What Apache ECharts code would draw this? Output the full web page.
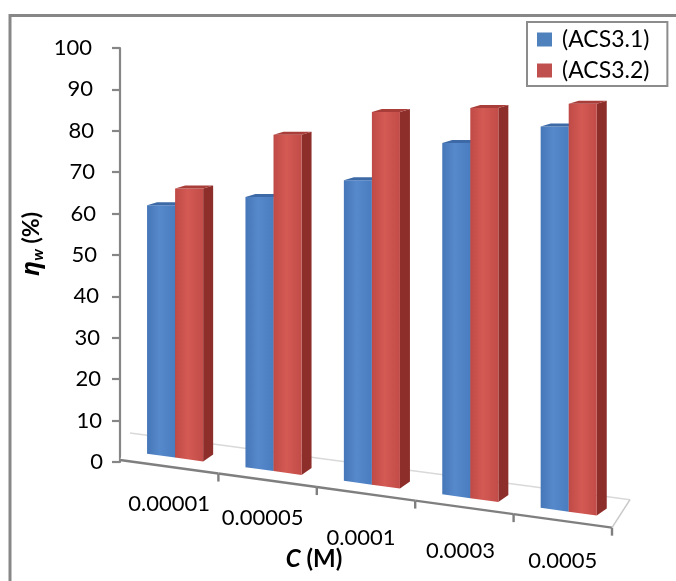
<!DOCTYPE html>
<html>
<head>
<meta charset="utf-8">
<script src="https://cdn.jsdelivr.net/npm/echarts@6.0.0/dist/echarts.min.js"></script>
<style>
  html, body { margin: 0; padding: 0; background: #ffffff; }
  #chart { width: 676px; height: 581px; }
</style>
</head>
<body>
<div id="chart"></div>
<script>
// Inhibition efficiency (%) at each inhibitor concentration
const categories = ['0.00001', '0.00005', '0.0001', '0.0003', '0.0005'];
const acs31 = [63, 65, 69, 78, 82];
const acs32 = [67, 80, 85.5, 86.5, 87.5];
const seriesNames = ['(ACS3.1)', '(ACS3.2)'];

// value-axis range
const yMin = 0, yMax = 100, yStep = 10;

// pseudo-3D look of the floor and the columns
const FLOOR_SLOPE = 0.1375;   // front edge of the floor falls to the right
const BAR_SET_BACK = 12;      // columns stand a little behind the front edge
const SIDE_DX = 10;           // width of the visible right side of a column
const FONT = 'Lato, "Noto Sans", sans-serif';
const FS = 22;

const chart = echarts.init(document.getElementById('chart'), null, { renderer: 'canvas' });

function floorItem(params, api) {
  const cs = params.coordSys;
  const i = api.value(0);
  const c = api.coord([i, 0]);
  const half = api.size([1, 0])[0] / 2;
  const x0 = cs.x;
  const front = x => [x, c[1] - 2 + FLOOR_SLOPE * (x - x0)];
  const back = x => {
    const t = (x - x0) / cs.width;
    const f = front(x);
    return [f[0] + 10 + 8 * t, f[1] - 27 - t];
  };
  const xa = c[0] - half, xb = c[0] + half;
  const children = [
    { type: 'polygon', shape: { points: [front(xa), front(xb), back(xb), back(xa)] },
      style: { fill: '#ffffff', stroke: null } },
    { type: 'line', shape: { x1: back(xa)[0], y1: back(xa)[1], x2: back(xb)[0], y2: back(xb)[1] },
      style: { stroke: '#d9d9d9', lineWidth: 1.5 } },
    { type: 'line', shape: { x1: front(xa)[0], y1: front(xa)[1], x2: front(xb)[0], y2: front(xb)[1] },
      style: { stroke: '#7f7f7f', lineWidth: 2.4 } },
    { type: 'line', shape: { x1: xb, y1: front(xb)[1], x2: xb, y2: front(xb)[1] + 8 },
      style: { stroke: '#7f7f7f', lineWidth: 2.4 } }
  ];
  if (i === categories.length - 1) {
    children.push({ type: 'line',
      shape: { x1: front(xb)[0], y1: front(xb)[1], x2: back(xb)[0], y2: back(xb)[1] },
      style: { stroke: '#c8c8c8', lineWidth: 1.5 } });
  }
  return { type: 'group', children };
}

function makeBarItem(side, colors) {
  return function (params, api) {
    const cs = params.coordSys;
    const i = api.value(0);
    const v = api.value(1);
    const base = api.coord([i, 0]);
    const top = api.coord([i, v]);
    const cw = api.size([1, 0])[0];
    const bw = cw * 0.285;
    const cx = base[0] + cw * 0.06;
    const xL = cx - bw + side * bw;
    const xR = xL + bw;
    const floorY = x => base[1] - BAR_SET_BACK + FLOOR_SLOPE * (x - cs.x);
    const yT = top[1] + 4;
    const frontFill = new echarts.graphic.LinearGradient(0, 0, 1, 0, [
      { offset: 0, color: colors.f0 },
      { offset: 0.45, color: colors.f1 },
      { offset: 1, color: colors.f2 }
    ]);
    return {
      type: 'group',
      children: [
        { type: 'polygon',
          shape: { points: [[xR, yT], [xR + SIDE_DX, yT - 3], [xR + SIDE_DX, floorY(xR) - 7], [xR, floorY(xR)]] },
          style: { fill: colors.side } },
        { type: 'polygon',
          shape: { points: [[xL, yT], [xR, yT], [xR, floorY(xR)], [xL, floorY(xL)]] },
          style: { fill: frontFill } },
        { type: 'polygon',
          shape: { points: [[xL, yT], [xR, yT], [xR + SIDE_DX, yT - 3], [xL + SIDE_DX, yT - 3]] },
          style: { fill: colors.top } }
      ]
    };
  };
}

const blueColors = { f0: '#4677b8', f1: '#5689cb', f2: '#4a7dbf', side: '#2f5a92', top: '#3d6aa6' };
const redColors = { f0: '#bf4a46', f1: '#d45a54', f2: '#c24c48', side: '#8e2e2b', top: '#a83d39' };

const labelStyle = { fontSize: FS, fontFamily: FONT, color: '#000' };

// value labels drift slightly left toward the top of the axis
const yLabelRich = {};
for (let v = yMin; v <= yMax; v += yStep) {
  yLabelRich['p' + v] = Object.assign({ padding: [0, Math.round(0.11 * v), 0, 0] }, labelStyle);
}

const option = {
  animation: false,
  backgroundColor: '#ffffff',
  textStyle: { fontFamily: FONT },
  graphic: [
    { type: 'rect', silent: true, z: 0,
      shape: { x: 10, y: 15.5, width: 720, height: 640 },
      style: { fill: null, stroke: '#878787', lineWidth: 3 } }
  ],
  legend: {
    data: seriesNames,
    orient: 'vertical',
    left: 527,
    top: 22,
    padding: [5, 18, 3, 10],
    itemGap: 6,
    itemWidth: 15,
    itemHeight: 14,
    icon: 'rect',
    borderColor: '#8c8c8c',
    borderWidth: 2,
    borderRadius: 0,
    textStyle: { fontSize: 23, lineHeight: 25, fontFamily: FONT, color: '#000000', padding: [0, 0, 0, 5] }
  },
  grid: { left: 120, top: 48, width: 492, height: 414, outerBoundsMode: 'none', containLabel: false },
  xAxis: {
    type: 'category',
    data: categories,
    axisLine: { show: false },
    axisTick: { show: false },
    axisLabel: {
      interval: 0,
      margin: 30,
      hideOverlap: false,
      formatter: (value, idx) => '{l' + idx + '|' + value + '}',
      rich: {
        l0: Object.assign({ padding: [1, 0, 0, 0] }, labelStyle),
        l1: Object.assign({ padding: [15, 10, 0, 0] }, labelStyle),
        l2: Object.assign({ padding: [35, 10, 0, 0] }, labelStyle),
        l3: Object.assign({ padding: [48, 8, 0, 0] }, labelStyle),
        l4: Object.assign({ padding: [58, 0, 0, 0] }, labelStyle)
      }
    },
    name: '{i|C}{n| (M)}',
    nameLocation: 'middle',
    nameGap: 85,
    nameMoveOverlap: false,
    nameTextStyle: {
      padding: [0, 104, 0, 0],
      rich: {
        i: { fontSize: 24, fontWeight: 'bold', fontStyle: 'italic', fontFamily: FONT, color: '#000' },
        n: { fontSize: 24, fontWeight: 'bold', fontFamily: FONT, color: '#000' }
      }
    }
  },
  yAxis: {
    type: 'value',
    min: yMin,
    max: yMax,
    interval: yStep,
    axisLine: { show: true, lineStyle: { color: '#868686', width: 2.2 } },
    axisTick: { show: true, length: 8, lineStyle: { color: '#868686', width: 2.2 } },
    axisLabel: {
      margin: 17,
      formatter: value => '{p' + value + '|' + value + '}',
      rich: yLabelRich
    },
    splitLine: { show: false },
    name: '{e|η}{s|w}{n| (%)}',
    nameLocation: 'middle',
    nameRotate: 90,
    nameGap: 74,
    nameMoveOverlap: false,
    nameTextStyle: {
      padding: [0, 0, 0, 22],
      rich: {
        e: { fontSize: 25, fontWeight: 'bold', fontStyle: 'italic', fontFamily: '"Noto Sans", sans-serif', color: '#000' },
        s: { fontSize: 16, fontWeight: 'bold', fontStyle: 'italic', fontFamily: FONT, color: '#000', padding: [12, 0, 0, 0] },
        n: { fontSize: 23, fontWeight: 'bold', fontFamily: FONT, color: '#000' }
      }
    }
  },
  series: [
    {
      type: 'custom',
      name: 'floor',
      silent: true,
      renderItem: floorItem,
      data: categories.map((c, i) => [i]),
      z: 1
    },
    {
      type: 'custom',
      name: seriesNames[0],
      renderItem: makeBarItem(0, blueColors),
      itemStyle: { color: '#4f81bd' },
      data: acs31.map((v, i) => [i, v]),
      z: 2
    },
    {
      type: 'custom',
      name: seriesNames[1],
      renderItem: makeBarItem(1, redColors),
      itemStyle: { color: '#c0504d' },
      data: acs32.map((v, i) => [i, v]),
      z: 3
    }
  ]
};

chart.setOption(option);
</script>
</body>
</html>
